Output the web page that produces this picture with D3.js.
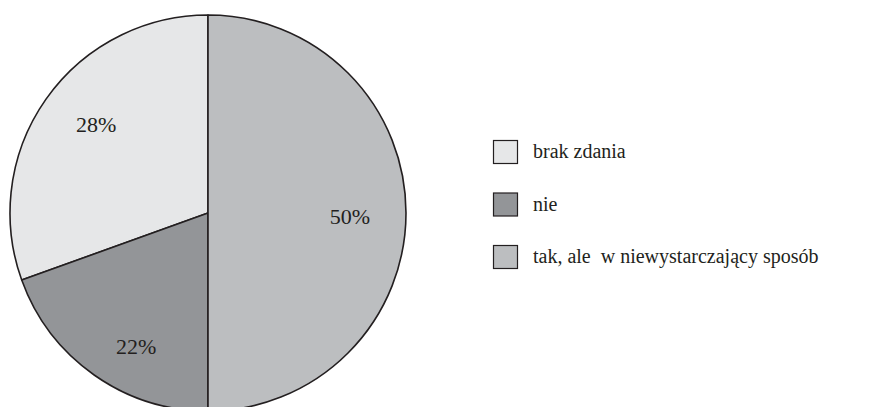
<!DOCTYPE html>
<html><head><meta charset="utf-8"><script src="https://cdn.jsdelivr.net/npm/d3@7"></script></head>
<body style="margin:0">
<svg id="chart" width="875" height="407"></svg>
<script>
var categories = ["brak zdania", "nie", "tak, ale  w niewystarczający sposób"];
// slice sizes as drawn in the picture; labels as printed
var shares = [30.5, 19.5, 50];
var labels = ["28%", "22%", "50%"];
var colors = ["#e6e7e8", "#939598", "#bcbec0"];

var cx = 208, cy = 213, radius = 198;
var font = "'Liberation Serif', 'Times New Roman', serif";

var svg = d3.select("#chart");

function draw() {
  svg.selectAll("*").remove();

  // counter-clockwise from 12 o'clock so "tak" ends up on the right half
  var pie = d3.pie()
    .sort(null)
    .startAngle(2 * Math.PI)
    .endAngle(0)
    .value(function(d) { return d; });

  var arc = d3.arc().innerRadius(0).outerRadius(radius);

  var g = svg.append("g")
    .attr("transform", "translate(" + cx + "," + cy + ")");

  var arcs = pie(shares);

  g.selectAll("path")
    .data(arcs)
    .enter().append("path")
    .attr("d", arc)
    .attr("fill", function(d, i) { return colors[i]; })
    .attr("stroke", "#231f20")
    .attr("stroke-width", 1.6)
    .attr("stroke-linejoin", "round");

  // where each label sits: shift from mid angle (deg), distance from centre
  var labelShift = [3.4, -6.7, 1.2];
  var labelDist = [143, 151, 142];

  g.selectAll("text.pct")
    .data(arcs)
    .enter().append("text")
    .attr("class", "pct")
    .attr("transform", function(d, i) {
      var a = (d.startAngle + d.endAngle) / 2 + labelShift[i] * Math.PI / 180;
      var x = labelDist[i] * Math.sin(a), y = -labelDist[i] * Math.cos(a);
      return "translate(" + x + "," + y + ")";
    })
    .attr("text-anchor", "middle")
    .attr("dy", "0.35em")
    .attr("fill", "#231f20")
    .style("font-family", font)
    .style("font-size", "22px")
    .text(function(d, i) { return labels[i]; });

  var legend = svg.append("g")
    .attr("transform", "translate(493,140)");

  var row = legend.selectAll("g")
    .data(categories)
    .enter().append("g")
    .attr("transform", function(d, i) { return "translate(0," + (i * 52.5) + ")"; });

  row.append("rect")
    .attr("x", 0.5).attr("y", 0.5)
    .attr("width", 24).attr("height", 23)
    .attr("fill", function(d, i) { return colors[i]; })
    .attr("stroke", "#231f20")
    .attr("stroke-width", 1.2);

  row.append("text")
    .attr("x", 40)
    .attr("y", 18)
    .attr("fill", "#231f20")
    .attr("xml:space", "preserve")
    .style("font-family", font)
    .style("font-size", "20px")
    .text(function(d) { return d; });
}

draw();
if (document.fonts && document.fonts.load) {
  document.fonts.load("20px 'Liberation Serif'").then(draw, function() {});
}
</script>
</body></html>
